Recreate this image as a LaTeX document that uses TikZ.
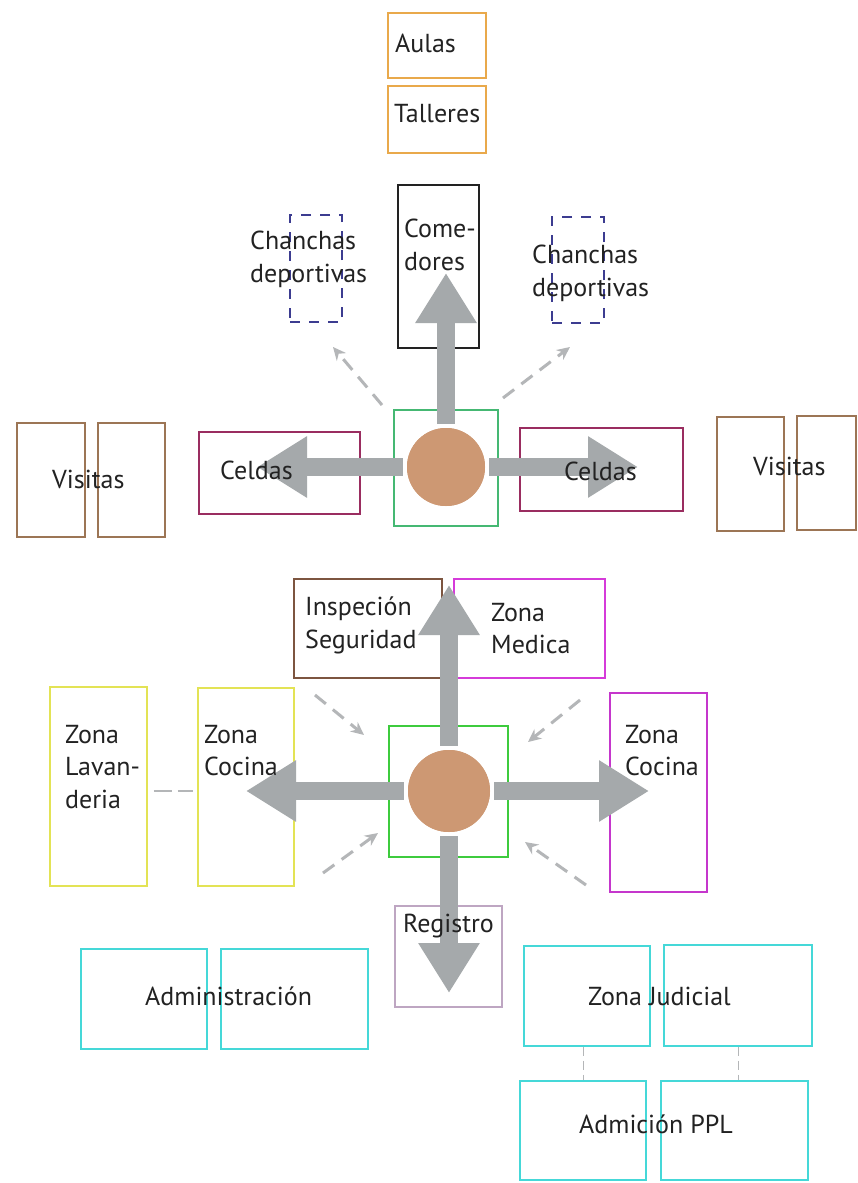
\documentclass[tikz,border=0pt]{standalone}
\usepackage{fontspec}
\setmainfont{PT Sans}
\usepackage{xcolor}
\usetikzlibrary{arrows.meta}

\definecolor{aulaorange}{HTML}{E9A94B}
\definecolor{comblack}{HTML}{222222}
\definecolor{canchablue}{HTML}{3C3C90}
\definecolor{visitbrown}{HTML}{9C7555}
\definecolor{celdared}{HTML}{9A2D60}
\definecolor{hubgreenA}{HTML}{45B873}
\definecolor{hubgreenB}{HTML}{3DCB3D}
\definecolor{hubtan}{HTML}{CD9873}
\definecolor{arrowgrey}{HTML}{A5A9AB}
\definecolor{dashgrey}{HTML}{B4B6B8}
\definecolor{inspbrown}{HTML}{7D5540}
\definecolor{zonamag}{HTML}{D53BD9}
\definecolor{cocmag}{HTML}{C536CC}
\definecolor{zonayellow}{HTML}{E3E355}
\definecolor{admcyan}{HTML}{45D8D8}
\definecolor{regviolet}{HTML}{BEA6C2}

\begin{document}
\begin{tikzpicture}[x=1pt,y=-1pt,
  font=\fontsize{26}{32.5}\selectfont,
  zone/.style={draw,line width=1.6pt,inner sep=0pt},
  txt/.style={inner sep=0pt,anchor=base west,text=comblack},
  txtml/.style={inner sep=0pt,anchor=north west,align=left,text=comblack},
  ring/.style={circle,fill=hubtan,inner sep=0pt},
  bigarrow/.style={draw=arrowgrey,line width=18pt,shorten <=4pt,-{Triangle[width=58pt,length=50pt]}},
  lightarrow/.style={draw=dashgrey,line width=3pt,dash pattern=on 14pt off 9pt,-{Stealth[length=13pt,width=12pt]}},
  linkdash/.style={draw=dashgrey,line width=1.6pt,dash pattern=on 18pt off 6pt},
  thindash/.style={draw=dashgrey,line width=1pt,dash pattern=on 9pt off 5pt}]

\fill[white] (0,0) rectangle (858,1183);
\useasboundingbox (0,0) rectangle (858,1183);

\node[zone,draw=aulaorange,minimum width=98pt,minimum height=65pt] (aulas) at (437,45.5) {};
\node[zone,draw=aulaorange,minimum width=98pt,minimum height=67pt] (talleres) at (437,119.5) {};
\node[zone,draw=comblack,minimum width=81pt,minimum height=163pt] (comedores) at (438.5,266.5) {};
\node[zone,draw=canchablue,dash pattern=on 10pt off 9pt,minimum width=52pt,minimum height=107pt] (canchaL) at (316,268.5) {};
\node[zone,draw=canchablue,dash pattern=on 10pt off 9pt,minimum width=52pt,minimum height=106pt] (canchaR) at (578,270) {};
\node[zone,draw=visitbrown,minimum width=68pt,minimum height=114pt] (visitaLa) at (51,480) {};
\node[zone,draw=visitbrown,minimum width=67pt,minimum height=114pt] (visitaLb) at (131.5,480) {};
\node[zone,draw=celdared,minimum width=161pt,minimum height=82pt] (celdaL) at (279.5,473) {};
\node[zone,draw=hubgreenA,minimum width=104pt,minimum height=116pt] (hubA) at (446,468) {};
\node[zone,draw=celdared,minimum width=163pt,minimum height=83pt] (celdaR) at (601.5,469.5) {};
\node[zone,draw=visitbrown,minimum width=67pt,minimum height=114pt] (visitaRa) at (750.5,474) {};
\node[zone,draw=visitbrown,minimum width=59pt,minimum height=114pt] (visitaRb) at (826.5,473) {};

\node[zone,draw=inspbrown,minimum width=148pt,minimum height=99pt] (inspeccion) at (368,628.5) {};
\node[zone,draw=zonamag,minimum width=151pt,minimum height=99pt] (medica) at (529.5,628.5) {};
\node[zone,draw=zonayellow,minimum width=97pt,minimum height=199pt] (lavanderia) at (98.5,786.5) {};
\node[zone,draw=zonayellow,minimum width=96pt,minimum height=198pt] (cocinaL) at (246,787) {};
\node[zone,draw=hubgreenB,minimum width=119pt,minimum height=131pt] (hubB) at (448.5,791.5) {};
\node[zone,draw=cocmag,minimum width=97pt,minimum height=199pt] (cocinaR) at (658.5,792.5) {};
\node[zone,draw=regviolet,minimum width=107pt,minimum height=101pt] (registro) at (448.5,956.5) {};
\node[zone,draw=admcyan,minimum width=126pt,minimum height=100pt] (adminA) at (144,999) {};
\node[zone,draw=admcyan,minimum width=147pt,minimum height=100pt] (adminB) at (294.5,999) {};
\node[zone,draw=admcyan,minimum width=126pt,minimum height=100pt] (judA) at (587,996) {};
\node[zone,draw=admcyan,minimum width=148pt,minimum height=101pt] (judB) at (738,995.5) {};
\node[zone,draw=admcyan,minimum width=126pt,minimum height=99pt] (pplA) at (583,1130.5) {};
\node[zone,draw=admcyan,minimum width=147pt,minimum height=99pt] (pplB) at (734.5,1130.5) {};

\node[ring,minimum size=78pt] (ringA) at (446,467) {};
\node[ring,minimum size=82pt] (ringB) at (449,791) {};

\coordinate (tipAn) at (446,273);
\coordinate (tipAw) at (257,467);
\coordinate (tipAe) at (638,467);
\coordinate (tipBn) at (449,585);
\coordinate (tipBw) at (246,791);
\coordinate (tipBe) at (649,791);
\coordinate (tipBs) at (449,993);
\draw[bigarrow] (ringA.north) -- (tipAn);
\draw[bigarrow] (ringA.west) -- (tipAw);
\draw[bigarrow] (ringA.east) -- (tipAe);
\draw[bigarrow] (ringB.north) -- (tipBn);
\draw[bigarrow] (ringB.west) -- (tipBw);
\draw[bigarrow] (ringB.east) -- (tipBe);
\draw[bigarrow] (ringB.south) -- (tipBs);
\node[ring,minimum size=78pt] at (ringA) {};
\node[ring,minimum size=82pt] at (ringB) {};

\coordinate (fromAw) at (382,405);
\coordinate (toAw) at (333,347);
\coordinate (fromAe) at (503,398);
\coordinate (toAe) at (570,347);
\coordinate (fromBnw) at (315,695);
\coordinate (toBnw) at (364,735);
\coordinate (fromBne) at (580,700);
\coordinate (toBne) at (528,742);
\coordinate (fromBsw) at (323,873);
\coordinate (toBsw) at (378,833);
\coordinate (fromBse) at (586,885);
\coordinate (toBse) at (525,842);
\draw[lightarrow] (fromAw) -- (toAw);
\draw[lightarrow] (fromAe) -- (toAe);
\draw[lightarrow] (fromBnw) -- (toBnw);
\draw[lightarrow] (fromBne) -- (toBne);
\draw[lightarrow] (fromBsw) -- (toBsw);
\draw[lightarrow] (fromBse) -- (toBse);

\draw[linkdash,shorten <=6pt,shorten >=4pt] (lavanderia.east |- 0,791) -- (cocinaL.west |- 0,791);
\draw[thindash] (pplA.north |- judA.south) -- (pplA.north);
\draw[thindash] (judB.south) -- (judB.south |- pplB.north);

\node[txt] (aulasT) at (395,52) {Aulas};
\node[txt] (talleresT) at (394,122) {Talleres};
\node[txtml] (comedoresT) at (404,219) {Come-\\dores};
\node[txtml] (canchaLT) at (250,231) {Chanchas\\deportivas};
\node[txtml] (canchaRT) at (532,245) {Chanchas\\deportivas};
\node[txt] (visitaLT) at (52,488) {Visitas};
\node[txt] (celdaLT) at (220,479) {Celdas};
\node[txt] (celdaRT) at (564,480) {Celdas};
\node[txt] (visitaRT) at (753,475) {Visitas};
\node[txtml] (inspeccionT) at (305,597) {Inspeción\\Seguridad};
\node[txtml] (medicaT) at (491,603) {Zona\\Medica};
\node[txtml] (lavanderiaT) at (65,725) {Zona\\Lavan-\\deria};
\node[txtml] (cocinaLT) at (204,725) {Zona\\Cocina};
\node[txtml] (cocinaRT) at (625,725) {Zona\\Cocina};
\node[txt] (registroT) at (403,932) {Registro};
\node[txt] (adminT) at (145,1005) {Administración};
\node[txt] (judT) at (588,1005) {Zona Judicial};
\node[txt] (pplT) at (579,1133) {Admición PPL};
\end{tikzpicture}
\end{document}
